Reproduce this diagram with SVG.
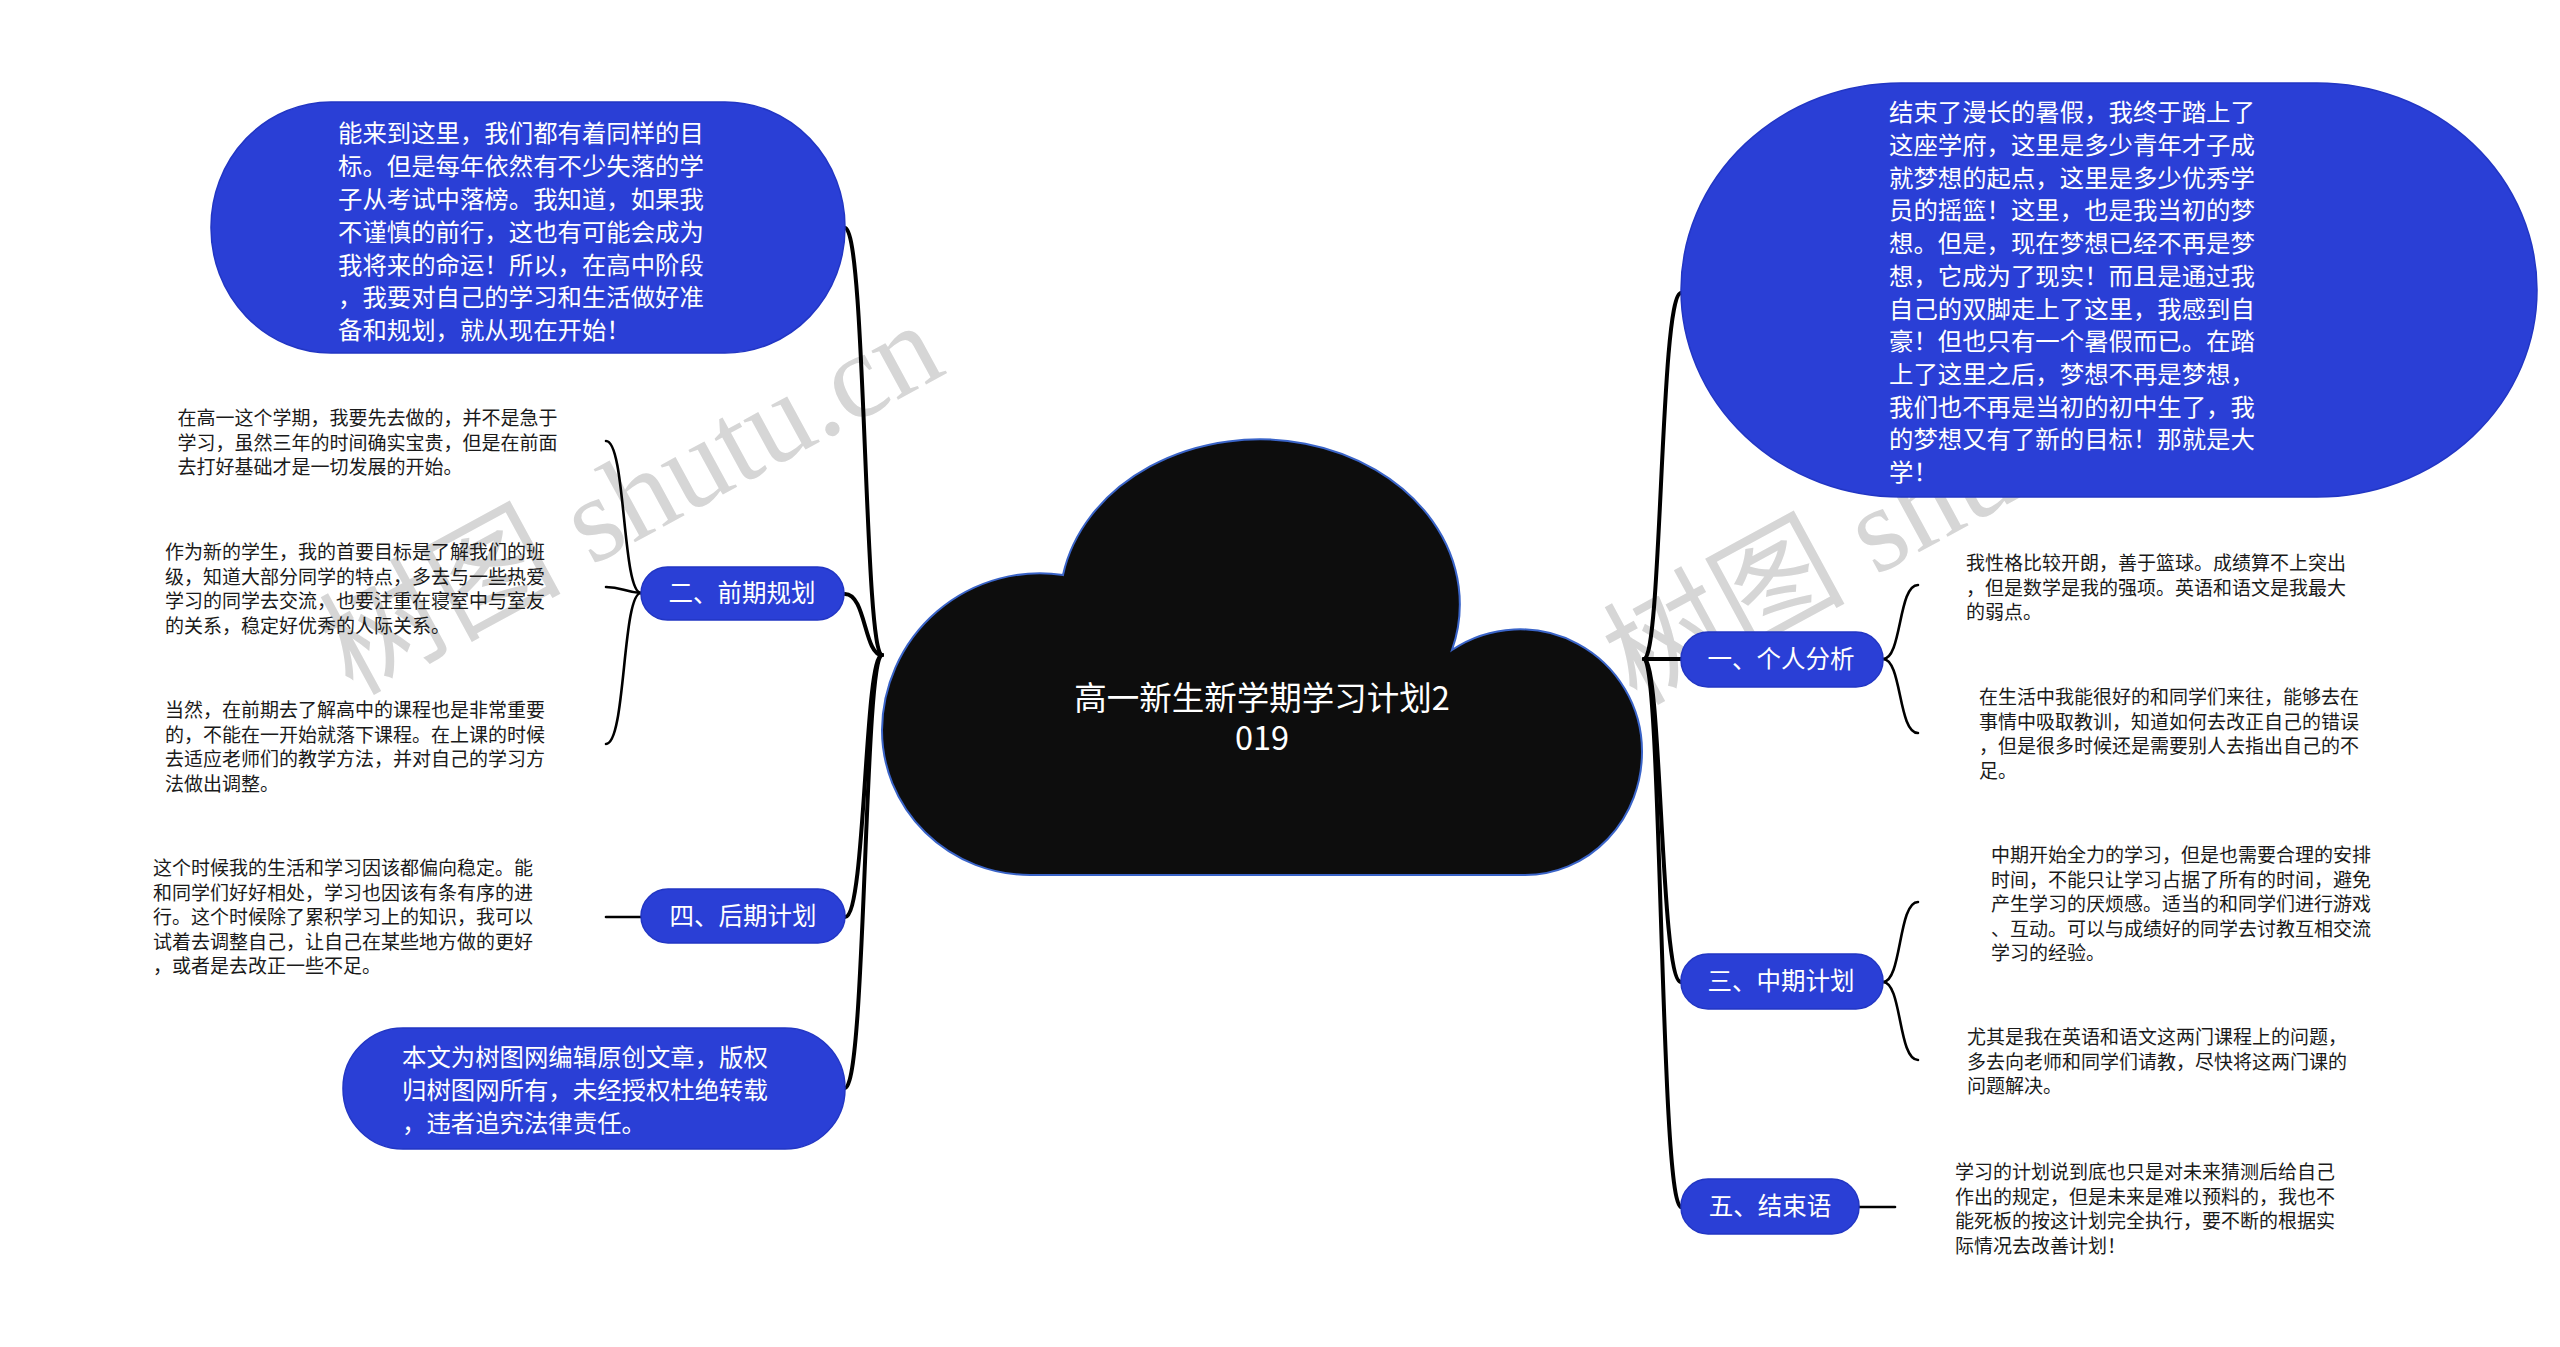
<svg xmlns="http://www.w3.org/2000/svg" width="2560" height="1347" viewBox="0 0 2560 1347">
<style>
.wm{font-family:"Liberation Serif","Noto Sans CJK SC",serif;font-size:121px;fill:#d6d6d6}
.trunk{fill:none;stroke:#000;stroke-width:4;stroke-linecap:round}
.branch{fill:none;stroke:#000;stroke-width:2.6;stroke-linecap:round}
.blue{fill:#2a3fd6;stroke:#2236c4;stroke-width:1.5}
.wt{font-family:"Noto Sans CJK SC","Noto Sans",sans-serif;fill:#fff;font-size:24.4px}
.lbl{font-family:"Noto Sans CJK SC","Noto Sans",sans-serif;fill:#fff;font-size:24.5px;text-anchor:middle}
.bt{font-family:"Noto Sans CJK SC","Noto Sans",sans-serif;fill:#1a1a1a;font-size:19px}
.title{font-family:"Noto Sans CJK SC","Noto Sans",sans-serif;fill:#fff;font-size:32.5px;text-anchor:middle}
</style>
<rect width="2560" height="1347" fill="#fff"/>
<g id="watermarks">
<text class="wm" transform="translate(352 696) rotate(-28.5)">树图 shutu.cn</text>
<text class="wm" transform="translate(1636 706) rotate(-28.5)">树图 shutu.cn</text>
</g>
<g id="connectors">
<path class="trunk" d="M882 655 C864 655 866 228 845 228"/>
<path class="trunk" d="M882 655 C864 655 866 594 845 594"/>
<path class="trunk" d="M882 655 C864 655 866 917 845 917"/>
<path class="trunk" d="M882 655 C864 655 866 1088 845 1088"/>
<path class="trunk" d="M1644 659 C1662 659 1660 293 1681 293"/>
<path class="trunk" d="M1644 659 L1681 659"/>
<path class="trunk" d="M1644 659 C1662 659 1660 982 1681 982"/>
<path class="trunk" d="M1644 659 C1662 659 1660 1207 1681 1207"/>
<path class="branch" d="M641 593 C622 593 626 441 606 441"/>
<path class="branch" d="M641 593 C624 592 622 587 606 587"/>
<path class="branch" d="M641 593 C622 593 626 744 606 744"/>
<path class="branch" d="M606 917 L641 917"/>
<path class="branch" d="M1883 659 C1902 659 1898 585 1918 585"/>
<path class="branch" d="M1883 659 C1902 659 1898 733 1918 733"/>
<path class="branch" d="M1883 982 C1902 982 1898 902 1918 902"/>
<path class="branch" d="M1883 982 C1902 982 1898 1060 1918 1060"/>
<path class="branch" d="M1859 1207 L1895 1207"/>
</g>
<g id="root">
<path d="M1030 875 A148 145 0 0 1 882 730 A158 158 0 0 1 1063 575 A200 165 0 1 1 1452 650 A122 122 0 0 1 1642 752 A117 123 0 0 1 1525 875 Z" fill="#0d0d0d" stroke="#3a64c8" stroke-width="2"/>
<text class="title"><tspan x="1262" y="710">高一新生新学期学习计划2</tspan><tspan x="1262" y="750">019</tspan></text>
</g>
<g id="node-intro-left">
<rect class="blue" x="211" y="102" width="634" height="251" rx="120" ry="125"/>
<text class="wt"><tspan x="338" y="142.3">能来到这里，我们都有着同样的目</tspan><tspan x="338" y="175.1">标。但是每年依然有不少失落的学</tspan><tspan x="338" y="207.9">子从考试中落榜。我知道，如果我</tspan><tspan x="338" y="240.7">不谨慎的前行，这也有可能会成为</tspan><tspan x="338" y="273.5">我将来的命运！所以，在高中阶段</tspan><tspan x="338" y="306.3">，我要对自己的学习和生活做好准</tspan><tspan x="338" y="339.1">备和规划，就从现在开始！</tspan></text>
</g>
<g id="node-2">
<rect class="blue" x="641" y="567" width="203" height="53" rx="26.5"/>
<text class="lbl" x="742" y="602.3">二、前期规划</text>
</g>
<g id="node-2-1">
<text class="bt"><tspan x="177.5" y="425.2">在高一这个学期，我要先去做的，并不是急于</tspan><tspan x="177.5" y="449.7">学习，虽然三年的时间确实宝贵，但是在前面</tspan><tspan x="177.5" y="474.2">去打好基础才是一切发展的开始。</tspan></text>
</g>
<g id="node-2-2">
<text class="bt"><tspan x="165" y="559.2">作为新的学生，我的首要目标是了解我们的班</tspan><tspan x="165" y="583.7">级，知道大部分同学的特点，多去与一些热爱</tspan><tspan x="165" y="608.2">学习的同学去交流，也要注重在寝室中与室友</tspan><tspan x="165" y="632.7">的关系，稳定好优秀的人际关系。</tspan></text>
</g>
<g id="node-2-3">
<text class="bt"><tspan x="165" y="717.2">当然，在前期去了解高中的课程也是非常重要</tspan><tspan x="165" y="741.7">的，不能在一开始就落下课程。在上课的时候</tspan><tspan x="165" y="766.2">去适应老师们的教学方法，并对自己的学习方</tspan><tspan x="165" y="790.7">法做出调整。</tspan></text>
</g>
<g id="node-4">
<rect class="blue" x="641" y="889" width="204" height="54" rx="27"/>
<text class="lbl" x="743" y="925.3">四、后期计划</text>
</g>
<g id="node-4-1">
<text class="bt"><tspan x="153" y="875.2">这个时候我的生活和学习因该都偏向稳定。能</tspan><tspan x="153" y="899.7">和同学们好好相处，学习也因该有条有序的进</tspan><tspan x="153" y="924.2">行。这个时候除了累积学习上的知识，我可以</tspan><tspan x="153" y="948.7">试着去调整自己，让自己在某些地方做的更好</tspan><tspan x="153" y="973.2">，或者是去改正一些不足。</tspan></text>
</g>
<g id="node-copyright">
<rect class="blue" x="343" y="1028" width="502" height="121" rx="60"/>
<text class="wt"><tspan x="402" y="1066.3">本文为树图网编辑原创文章，版权</tspan><tspan x="402" y="1099.1">归树图网所有，未经授权杜绝转载</tspan><tspan x="402" y="1131.9">，违者追究法律责任。</tspan></text>
</g>
<g id="node-intro-right">
<rect class="blue" x="1681" y="83" width="856" height="414" rx="220" ry="207"/>
<text class="wt"><tspan x="1889" y="121.3">结束了漫长的暑假，我终于踏上了</tspan><tspan x="1889" y="154">这座学府，这里是多少青年才子成</tspan><tspan x="1889" y="186.7">就梦想的起点，这里是多少优秀学</tspan><tspan x="1889" y="219.4">员的摇篮！这里，也是我当初的梦</tspan><tspan x="1889" y="252.1">想。但是，现在梦想已经不再是梦</tspan><tspan x="1889" y="284.8">想，它成为了现实！而且是通过我</tspan><tspan x="1889" y="317.5">自己的双脚走上了这里，我感到自</tspan><tspan x="1889" y="350.2">豪！但也只有一个暑假而已。在踏</tspan><tspan x="1889" y="382.9">上了这里之后，梦想不再是梦想，</tspan><tspan x="1889" y="415.6">我们也不再是当初的初中生了，我</tspan><tspan x="1889" y="448.3">的梦想又有了新的目标！那就是大</tspan><tspan x="1889" y="481">学！</tspan></text>
</g>
<g id="node-1">
<rect class="blue" x="1681" y="632" width="202" height="55" rx="27"/>
<text class="lbl" x="1781" y="668.3">一、个人分析</text>
</g>
<g id="node-1-1">
<text class="bt"><tspan x="1966" y="570.2">我性格比较开朗，善于篮球。成绩算不上突出</tspan><tspan x="1966" y="594.7">，但是数学是我的强项。英语和语文是我最大</tspan><tspan x="1966" y="619.2">的弱点。</tspan></text>
</g>
<g id="node-1-2">
<text class="bt"><tspan x="1979" y="704.2">在生活中我能很好的和同学们来往，能够去在</tspan><tspan x="1979" y="728.7">事情中吸取教训，知道如何去改正自己的错误</tspan><tspan x="1979" y="753.2">，但是很多时候还是需要别人去指出自己的不</tspan><tspan x="1979" y="777.7">足。</tspan></text>
</g>
<g id="node-3">
<rect class="blue" x="1681" y="954" width="202" height="55" rx="27"/>
<text class="lbl" x="1781" y="990.3">三、中期计划</text>
</g>
<g id="node-3-1">
<text class="bt"><tspan x="1991" y="862.2">中期开始全力的学习，但是也需要合理的安排</tspan><tspan x="1991" y="886.7">时间，不能只让学习占据了所有的时间，避免</tspan><tspan x="1991" y="911.2">产生学习的厌烦感。适当的和同学们进行游戏</tspan><tspan x="1991" y="935.7">、互动。可以与成绩好的同学去讨教互相交流</tspan><tspan x="1991" y="960.2">学习的经验。</tspan></text>
</g>
<g id="node-3-2">
<text class="bt"><tspan x="1967" y="1044.2">尤其是我在英语和语文这两门课程上的问题，</tspan><tspan x="1967" y="1068.7">多去向老师和同学们请教，尽快将这两门课的</tspan><tspan x="1967" y="1093.2">问题解决。</tspan></text>
</g>
<g id="node-5">
<rect class="blue" x="1681" y="1179" width="178" height="55" rx="27"/>
<text class="lbl" x="1770" y="1215.3">五、结束语</text>
</g>
<g id="node-5-1">
<text class="bt"><tspan x="1955" y="1179.2">学习的计划说到底也只是对未来猜测后给自己</tspan><tspan x="1955" y="1203.7">作出的规定，但是未来是难以预料的，我也不</tspan><tspan x="1955" y="1228.2">能死板的按这计划完全执行，要不断的根据实</tspan><tspan x="1955" y="1252.7">际情况去改善计划！</tspan></text>
</g>
</svg>
